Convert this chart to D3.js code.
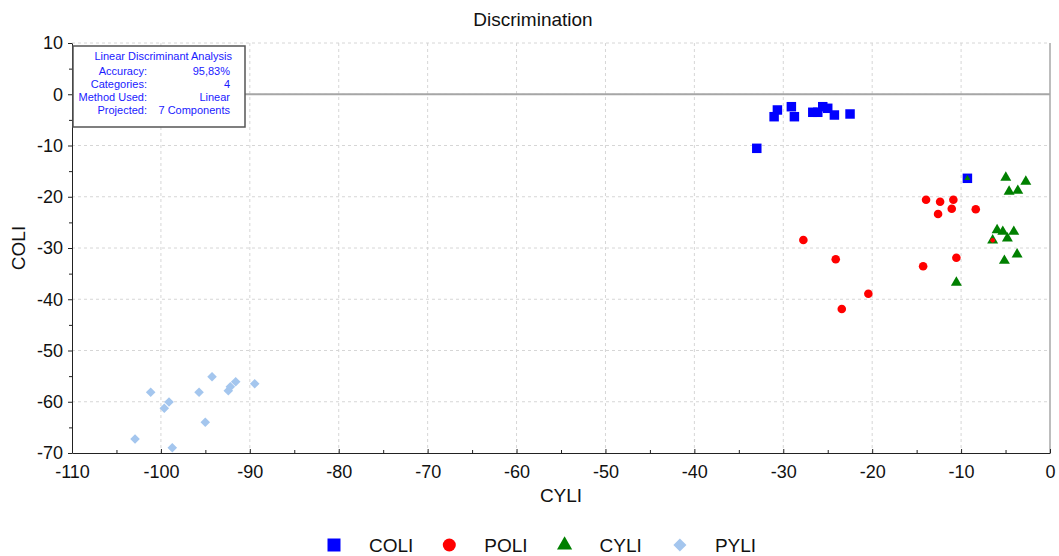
<!DOCTYPE html>
<html>
<head>
<meta charset="utf-8">
<script src="https://cdn.jsdelivr.net/npm/d3@7"></script>
<style>
  body { margin: 0; background: #fff; }
  text { font-family: "Liberation Sans", Arial, sans-serif; }
</style>
</head>
<body>
<div id="chart"></div>
<script>
// data (discriminant scores)
var categories = ["COLI", "POLI", "CYLI", "PYLI"];

var coliPoints = [
  [-30.66, -3.07], [-31.03, -4.38], [-29.09, -2.43], [-28.75, -4.38],
  [-26.68, -3.52], [-26.12, -3.52], [-25.56, -2.43], [-25.0, -2.74],
  [-24.25, -4.05], [-22.49, -3.85], [-32.98, -10.55], [-9.29, -16.4]
];
var poliPoints = [
  [-13.94, -20.58], [-12.36, -20.97], [-10.87, -20.58], [-11.05, -22.33],
  [-12.59, -23.37], [-8.35, -22.45], [-27.74, -28.44], [-24.1, -32.2],
  [-14.27, -33.57], [-10.53, -31.89], [-20.43, -38.92], [-23.42, -41.9]
];
var cyliPoints = [
  [-4.97, -16.28], [-2.72, -17.06], [-4.6, -19.01], [-3.62, -18.82],
  [-5.95, -26.49], [-5.31, -26.82], [-4.07, -26.82], [-4.79, -28.11],
  [-6.45, -28.5], [-3.7, -31.23], [-5.13, -32.48], [-10.53, -36.77]
];
var pyliPoints = [
  [-101.15, -58.16], [-99.09, -60.05], [-99.62, -61.28], [-102.91, -67.27],
  [-98.72, -68.97], [-95.71, -58.16], [-94.25, -55.11], [-95.01, -64.01],
  [-92.42, -57.84], [-92.19, -57.06], [-91.59, -56.09], [-89.45, -56.48]
];
// [observed class, index in its list, predicted class]
var misclassified = [["COLI", 11, "CYLI"], ["CYLI", 8, "POLI"]];

var xTicks = [-110, -100, -90, -80, -70, -60, -50, -40, -30, -20, -10, 0];
var yTicks = [10, 0, -10, -20, -30, -40, -50, -60, -70];

var infoLabels = ["Accuracy:", "Categories:", "Method Used:", "Projected:"];
var infoValues = ["95,83%", "4", "Linear", "7 Components"];

var svgWidth = 1059;
var svgHeight = 556;
var margin = { top: 43, right: 9, bottom: 103, left: 72 };
var width = svgWidth - margin.left - margin.right;
var height = svgHeight - margin.top - margin.bottom;

var seriesData = { COLI: coliPoints, POLI: poliPoints, CYLI: cyliPoints, PYLI: pyliPoints };
var colors = { COLI: "#0000ff", POLI: "#ff0000", CYLI: "#008000", PYLI: "#a4c6ee" };
var shapes = { COLI: d3.symbolSquare, POLI: d3.symbolCircle, CYLI: d3.symbolTriangle, PYLI: d3.symbolSquare };
var sizes = { COLI: 90, POLI: 58, CYLI: 52, PYLI: 46 };
var rotate = { COLI: 0, POLI: 0, CYLI: 0, PYLI: 45 };

var svg = d3.select("#chart").append("svg")
  .attr("width", svgWidth)
  .attr("height", svgHeight);

var chartGroup = svg.append("g")
  .attr("transform", `translate(${margin.left}, ${margin.top})`);

var xScale = d3.scaleLinear().domain([-110, 0]).range([0, width]);
var yScale = d3.scaleLinear().domain([-70, 10]).range([height, 0]);

// grid
chartGroup.append("g").selectAll("line")
  .data(xTicks.slice(1, -1))
  .enter().append("line")
  .attr("x1", d => xScale(d)).attr("x2", d => xScale(d))
  .attr("y1", 0).attr("y2", height)
  .attr("stroke", "#d6d6d6").attr("stroke-dasharray", "3,3");

chartGroup.append("g").selectAll("line")
  .data(yTicks.slice(0, -1))
  .enter().append("line")
  .attr("x1", 0).attr("x2", width)
  .attr("y1", d => yScale(d)).attr("y2", d => yScale(d))
  .attr("stroke", "#d6d6d6").attr("stroke-dasharray", "3,3");

// right border and zero line
chartGroup.append("line")
  .attr("x1", width).attr("x2", width).attr("y1", 0).attr("y2", height)
  .attr("stroke", "#bdbdbd").attr("stroke-width", 2);

chartGroup.append("line")
  .attr("x1", 0).attr("x2", width).attr("y1", yScale(0)).attr("y2", yScale(0))
  .attr("stroke", "#a6a6a6").attr("stroke-width", 2);

// minor ticks every 5
var minorX = d3.range(-105, 0, 10);
var minorY = d3.range(5, -70, -10);

// plain hyphen for negatives, like the reference
var plainFormat = d => String(d);

chartGroup.append("g")
  .attr("transform", `translate(0, ${height})`)
  .call(d3.axisBottom(xScale).tickValues(xTicks).tickSize(-4).tickSizeOuter(0).tickPadding(12)
    .tickFormat(plainFormat));
chartGroup.append("g")
  .attr("transform", `translate(0, ${height})`)
  .call(d3.axisBottom(xScale).tickValues(minorX).tickSize(-3).tickFormat(""))
  .select(".domain").remove();

chartGroup.append("g")
  .call(d3.axisLeft(yScale).tickValues(yTicks).tickSize(4).tickSizeOuter(0).tickPadding(5)
    .tickFormat(plainFormat));
chartGroup.append("g")
  .call(d3.axisLeft(yScale).tickValues(minorY).tickSize(3).tickFormat(""))
  .select(".domain").remove();

svg.selectAll(".tick text")
  .style("font-size", "18px")
  .style("font-family", "'Liberation Sans', Arial, sans-serif")
  .attr("fill", "#111");
svg.selectAll(".domain, .tick line").attr("stroke", "#222");

// points
categories.forEach(function(cat) {
  chartGroup.append("g").selectAll("path")
    .data(seriesData[cat])
    .enter().append("path")
    .attr("d", d3.symbol().type(shapes[cat]).size(sizes[cat]))
    .attr("transform", d => `translate(${xScale(d[0])}, ${yScale(d[1])}) rotate(${rotate[cat]})`)
    .attr("fill", colors[cat]);
});

// predicted class drawn small inside the misclassified points
chartGroup.append("g").selectAll("path")
  .data(misclassified)
  .enter().append("path")
  .attr("d", d => d3.symbol().type(shapes[d[2]]).size(sizes[d[2]] * 0.3)())
  .attr("transform", function(d) {
    var p = seriesData[d[0]][d[1]];
    return `translate(${xScale(p[0])}, ${yScale(p[1])})`;
  })
  .attr("fill", d => colors[d[2]]);

// info box
var box = chartGroup.append("g");
box.append("rect")
  .attr("x", 1).attr("y", 3).attr("width", 172).attr("height", 81)
  .attr("fill", "#fff").attr("stroke", "#555").attr("stroke-width", 1.5);
box.append("text")
  .attr("x", 160).attr("y", 17)
  .attr("text-anchor", "end")
  .style("font-size", "11px").attr("fill", "#1a1aff")
  .text("Linear Discriminant Analysis");
box.selectAll(".lab")
  .data(infoLabels)
  .enter().append("text")
  .attr("x", 75).attr("y", (d, i) => 31.5 + i * 13.3)
  .attr("text-anchor", "end")
  .style("font-size", "11px").attr("fill", "#1a1aff")
  .text(d => d);
box.selectAll(".val")
  .data(infoValues)
  .enter().append("text")
  .attr("x", 158).attr("y", (d, i) => 31.5 + i * 13.3)
  .attr("text-anchor", "end")
  .style("font-size", "11px").attr("fill", "#1a1aff")
  .text(d => d);

// titles
svg.append("text")
  .attr("x", 533).attr("y", 26)
  .attr("text-anchor", "middle")
  .style("font-size", "19px").attr("fill", "#111")
  .text("Discrimination");

svg.append("text")
  .attr("x", margin.left + width / 2).attr("y", 502)
  .attr("text-anchor", "middle")
  .style("font-size", "19px").attr("fill", "#111")
  .text("CYLI");

svg.append("text")
  .attr("transform", "rotate(-90)")
  .attr("x", -(margin.top + height / 2)).attr("y", 25)
  .attr("text-anchor", "middle")
  .style("font-size", "19px").attr("fill", "#111")
  .text("COLI");

// legend
var legendSizes = { COLI: 169, POLI: 133, CYLI: 100, PYLI: 85 };
var legend = svg.append("g").attr("transform", "translate(334, 545)");
var items = legend.selectAll("g")
  .data(categories)
  .enter().append("g")
  .attr("transform", (d, i) => `translate(${i * 115.3}, 0)`);
items.append("path")
  .attr("d", d => d3.symbol().type(shapes[d]).size(legendSizes[d])())
  .attr("transform", d => `rotate(${rotate[d]})`)
  .attr("fill", d => colors[d]);
items.append("text")
  .attr("x", 35).attr("y", 7)
  .style("font-size", "19px").attr("fill", "#111")
  .text(d => d);
</script>
</body>
</html>
